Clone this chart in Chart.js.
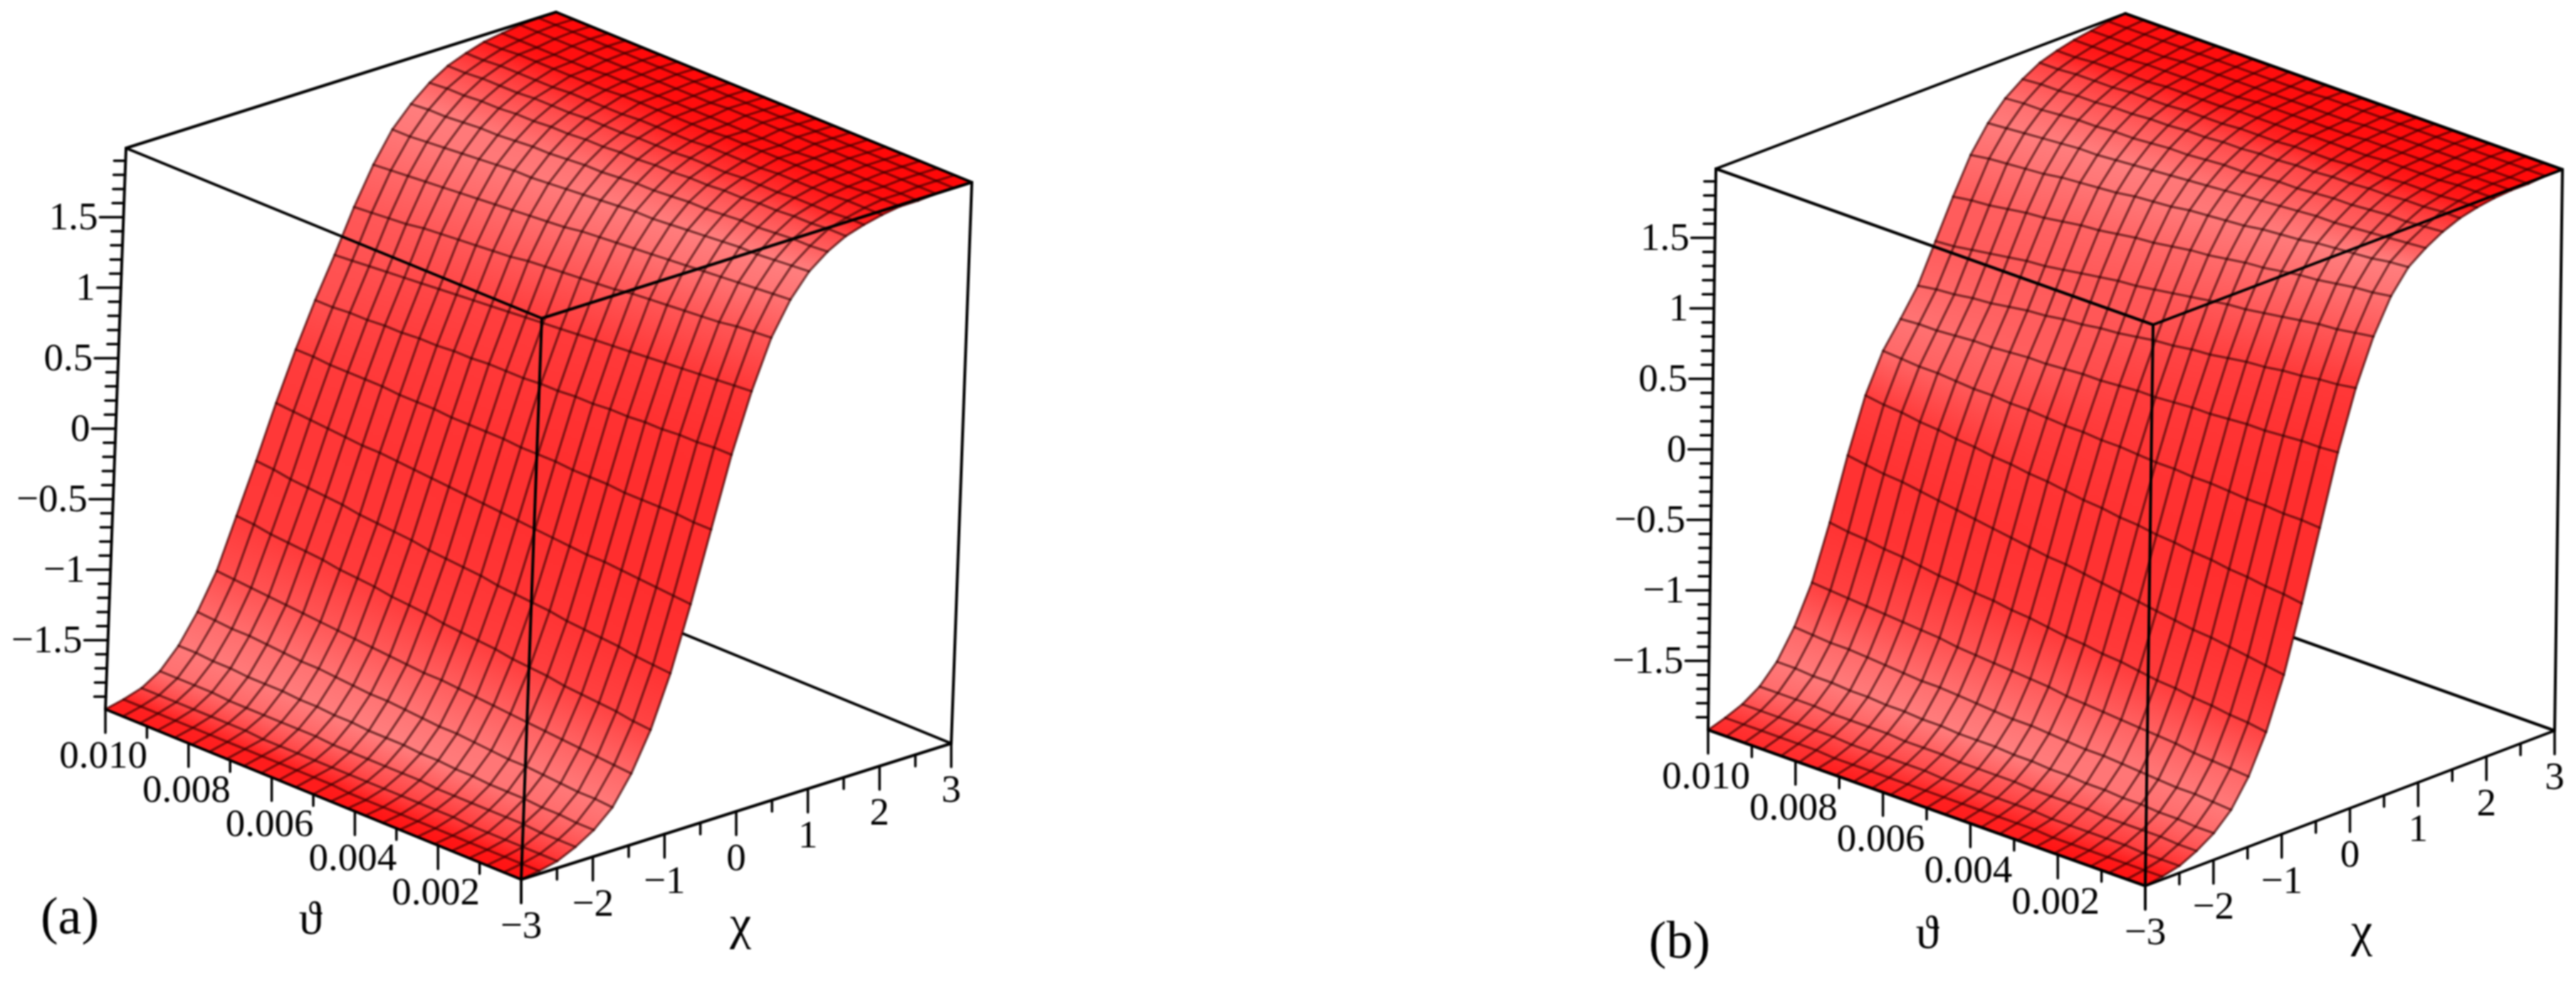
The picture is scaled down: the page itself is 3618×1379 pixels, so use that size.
<!DOCTYPE html>
<html>
<head>
<meta charset="utf-8">
<script src="https://cdn.jsdelivr.net/npm/chart.js@4/dist/chart.umd.min.js"></script>
<style>
  html, body { margin: 0; padding: 0; background: #fff; }
  canvas { display: block; filter: blur(1px); }
</style>
</head>
<body>
<canvas id="chartId" width="3618" height="1379"></canvas>
<script>
// axis grids of the surface mesh
const chiGrid = [-3,-2.75,-2.5,-2.25,-2,-1.75,-1.5,-1.25,-1,-.75,-.5,-.25,0,.25,.5,.75,1,1.25,1.5,1.75,2,2.25,2.5,2.75,3];
const thetaGrid = [0,.00042,.00083,.00125,.00167,.00208,.0025,.00292,.00333,.00375,.00417,.00458,.005,.00542,.00583,.00625,.00667,.00708,.0075,.00792,.00833,.00875,.00917,.00958,.01];

// heights: one row per theta, one column per chi
const surfaceA = [
[-1.99,-1.97,-1.94,-1.88,-1.80,-1.68,-1.48,-1.21,-.85,-.40,.09,.58,.99,1.33,1.56,1.72,1.82,1.89,1.93,1.96,1.98,1.98,1.99,1.99,1.99],
[-1.99,-1.97,-1.94,-1.88,-1.80,-1.67,-1.47,-1.20,-.84,-.39,.09,.58,.98,1.32,1.55,1.71,1.81,1.89,1.93,1.96,1.98,1.98,1.99,1.99,1.99],
[-1.99,-1.97,-1.94,-1.88,-1.79,-1.67,-1.46,-1.18,-.83,-.38,.10,.57,.97,1.31,1.54,1.70,1.81,1.88,1.92,1.96,1.98,1.98,1.99,1.99,1.99],
[-1.99,-1.97,-1.94,-1.87,-1.79,-1.66,-1.45,-1.17,-.81,-.37,.10,.57,.96,1.29,1.53,1.69,1.80,1.88,1.92,1.95,1.97,1.98,1.99,1.99,1.99],
[-1.99,-1.97,-1.94,-1.87,-1.78,-1.65,-1.44,-1.16,-.80,-.36,.10,.56,.95,1.28,1.52,1.69,1.79,1.87,1.92,1.95,1.97,1.98,1.99,1.99,1.99],
[-1.99,-1.97,-1.94,-1.87,-1.78,-1.64,-1.43,-1.15,-.79,-.35,.10,.56,.94,1.27,1.51,1.68,1.79,1.87,1.91,1.95,1.97,1.98,1.99,1.99,1.99],
[-1.99,-1.97,-1.93,-1.87,-1.78,-1.64,-1.42,-1.13,-.78,-.35,.11,.55,.93,1.26,1.50,1.67,1.78,1.86,1.91,1.95,1.97,1.98,1.99,1.99,1.99],
[-1.99,-1.97,-1.93,-1.87,-1.77,-1.63,-1.41,-1.12,-.76,-.34,.11,.55,.92,1.25,1.49,1.66,1.77,1.86,1.91,1.94,1.97,1.97,1.99,1.99,1.99],
[-1.99,-1.97,-1.93,-1.87,-1.77,-1.62,-1.40,-1.11,-.75,-.33,.11,.54,.91,1.24,1.48,1.65,1.77,1.85,1.90,1.94,1.97,1.97,1.99,1.99,1.99],
[-1.99,-1.97,-1.93,-1.86,-1.76,-1.61,-1.39,-1.09,-.74,-.32,.12,.54,.90,1.22,1.47,1.64,1.76,1.85,1.90,1.94,1.97,1.97,1.99,1.99,1.99],
[-1.99,-1.97,-1.93,-1.86,-1.76,-1.61,-1.38,-1.08,-.73,-.31,.12,.53,.89,1.21,1.46,1.64,1.75,1.84,1.90,1.94,1.97,1.97,1.99,1.99,1.99],
[-1.99,-1.97,-1.93,-1.86,-1.75,-1.60,-1.37,-1.07,-.71,-.30,.12,.53,.88,1.20,1.45,1.63,1.75,1.84,1.89,1.93,1.96,1.97,1.99,1.99,1.99],
[-1.99,-1.96,-1.93,-1.86,-1.75,-1.59,-1.37,-1.06,-.70,-.29,.13,.52,.87,1.19,1.44,1.62,1.74,1.83,1.89,1.93,1.96,1.97,1.99,1.99,1.99],
[-1.99,-1.96,-1.93,-1.86,-1.75,-1.58,-1.36,-1.04,-.69,-.28,.13,.52,.86,1.18,1.42,1.61,1.73,1.83,1.89,1.93,1.96,1.97,1.98,1.99,1.99],
[-1.99,-1.96,-1.93,-1.86,-1.74,-1.58,-1.35,-1.03,-.68,-.27,.13,.52,.85,1.17,1.41,1.60,1.73,1.82,1.88,1.93,1.96,1.97,1.98,1.99,1.99],
[-1.99,-1.96,-1.93,-1.85,-1.74,-1.57,-1.34,-1.02,-.66,-.26,.13,.51,.84,1.15,1.40,1.59,1.72,1.82,1.88,1.92,1.96,1.97,1.98,1.99,1.99],
[-1.99,-1.96,-1.93,-1.85,-1.73,-1.56,-1.33,-1.00,-.65,-.25,.14,.51,.83,1.14,1.39,1.58,1.71,1.81,1.88,1.92,1.96,1.97,1.98,1.99,1.99],
[-1.99,-1.96,-1.93,-1.85,-1.73,-1.55,-1.32,-.99,-.64,-.24,.14,.50,.82,1.13,1.38,1.58,1.71,1.81,1.87,1.92,1.95,1.97,1.98,1.99,1.99],
[-1.99,-1.96,-1.92,-1.85,-1.72,-1.55,-1.31,-.98,-.63,-.23,.14,.50,.81,1.12,1.37,1.57,1.70,1.80,1.87,1.92,1.95,1.97,1.98,1.99,1.99],
[-1.99,-1.96,-1.92,-1.85,-1.72,-1.54,-1.30,-.96,-.61,-.23,.15,.49,.80,1.11,1.36,1.56,1.69,1.80,1.87,1.91,1.95,1.96,1.98,1.99,1.99],
[-1.99,-1.96,-1.92,-1.85,-1.72,-1.53,-1.29,-.95,-.60,-.22,.15,.49,.79,1.10,1.35,1.55,1.69,1.79,1.86,1.91,1.95,1.96,1.98,1.99,1.99],
[-1.99,-1.96,-1.92,-1.84,-1.71,-1.52,-1.28,-.94,-.59,-.21,.15,.48,.78,1.08,1.34,1.54,1.68,1.79,1.86,1.91,1.95,1.96,1.98,1.99,1.99],
[-1.99,-1.96,-1.92,-1.84,-1.71,-1.52,-1.27,-.93,-.58,-.20,.15,.48,.77,1.07,1.33,1.53,1.67,1.78,1.86,1.91,1.95,1.96,1.98,1.99,1.99],
[-1.99,-1.96,-1.92,-1.84,-1.70,-1.51,-1.26,-.91,-.56,-.19,.16,.47,.76,1.06,1.32,1.52,1.67,1.78,1.85,1.90,1.94,1.96,1.98,1.99,1.99],
[-1.99,-1.96,-1.92,-1.84,-1.70,-1.50,-1.25,-.90,-.55,-.18,.16,.47,.75,1.05,1.31,1.52,1.66,1.77,1.85,1.90,1.94,1.96,1.98,1.99,1.99]
];
const surfaceB = [
[-1.99,-1.97,-1.94,-1.88,-1.80,-1.68,-1.49,-1.22,-.86,-.40,.09,.58,.99,1.31,1.55,1.71,1.80,1.87,1.92,1.95,1.97,1.98,1.98,1.99,1.99],
[-1.99,-1.97,-1.94,-1.88,-1.80,-1.67,-1.48,-1.20,-.84,-.38,.10,.57,.97,1.29,1.53,1.70,1.79,1.86,1.92,1.95,1.97,1.98,1.98,1.99,1.99],
[-1.99,-1.97,-1.94,-1.87,-1.79,-1.66,-1.47,-1.19,-.82,-.37,.10,.57,.96,1.27,1.52,1.68,1.78,1.85,1.91,1.94,1.97,1.98,1.98,1.99,1.99],
[-1.99,-1.97,-1.93,-1.87,-1.79,-1.66,-1.46,-1.17,-.80,-.35,.11,.56,.94,1.26,1.50,1.67,1.77,1.85,1.91,1.94,1.96,1.97,1.98,1.99,1.99],
[-1.99,-1.97,-1.93,-1.87,-1.78,-1.65,-1.44,-1.16,-.78,-.34,.11,.55,.93,1.24,1.48,1.66,1.76,1.84,1.90,1.94,1.96,1.97,1.98,1.99,1.99],
[-1.99,-1.97,-1.93,-1.87,-1.78,-1.64,-1.43,-1.14,-.77,-.32,.12,.55,.91,1.22,1.47,1.65,1.75,1.83,1.90,1.93,1.96,1.97,1.98,1.99,1.99],
[-1.99,-1.97,-1.93,-1.86,-1.77,-1.63,-1.42,-1.13,-.75,-.31,.13,.54,.90,1.20,1.45,1.63,1.75,1.83,1.89,1.93,1.96,1.97,1.98,1.99,1.99],
[-1.99,-1.96,-1.93,-1.86,-1.77,-1.62,-1.41,-1.11,-.73,-.29,.13,.53,.88,1.18,1.43,1.62,1.74,1.82,1.89,1.93,1.95,1.97,1.98,1.99,1.99],
[-1.99,-1.96,-1.92,-1.86,-1.76,-1.62,-1.40,-1.09,-.71,-.28,.14,.53,.86,1.17,1.42,1.61,1.73,1.81,1.88,1.92,1.95,1.97,1.98,1.99,1.99],
[-1.99,-1.96,-1.92,-1.86,-1.76,-1.61,-1.39,-1.08,-.69,-.26,.14,.52,.85,1.15,1.40,1.59,1.72,1.81,1.88,1.92,1.95,1.96,1.98,1.99,1.99],
[-1.99,-1.96,-1.92,-1.85,-1.75,-1.60,-1.38,-1.06,-.67,-.25,.15,.51,.83,1.13,1.38,1.58,1.71,1.80,1.87,1.92,1.95,1.96,1.97,1.99,1.99],
[-1.99,-1.96,-1.92,-1.85,-1.75,-1.59,-1.36,-1.05,-.65,-.23,.16,.51,.82,1.11,1.37,1.57,1.70,1.79,1.87,1.91,1.94,1.96,1.97,1.99,1.99],
[-1.99,-1.96,-1.92,-1.85,-1.74,-1.59,-1.35,-1.03,-.63,-.22,.16,.50,.80,1.09,1.35,1.56,1.69,1.79,1.86,1.91,1.94,1.96,1.97,1.99,1.99],
[-1.99,-1.96,-1.92,-1.85,-1.74,-1.58,-1.34,-1.01,-.62,-.20,.17,.49,.78,1.07,1.33,1.54,1.68,1.78,1.86,1.91,1.94,1.96,1.97,1.98,1.99],
[-1.99,-1.96,-1.91,-1.84,-1.74,-1.57,-1.33,-1.00,-.60,-.18,.17,.49,.77,1.06,1.32,1.53,1.67,1.77,1.85,1.90,1.94,1.96,1.97,1.98,1.99],
[-1.99,-1.96,-1.91,-1.84,-1.73,-1.56,-1.32,-.98,-.58,-.17,.18,.48,.75,1.04,1.30,1.52,1.66,1.77,1.85,1.90,1.93,1.95,1.97,1.98,1.99],
[-1.99,-1.96,-1.91,-1.84,-1.73,-1.55,-1.31,-.97,-.56,-.15,.19,.47,.74,1.02,1.28,1.50,1.65,1.76,1.84,1.90,1.93,1.95,1.97,1.98,1.99],
[-1.99,-1.96,-1.91,-1.83,-1.72,-1.55,-1.29,-.95,-.54,-.14,.19,.47,.72,1.00,1.27,1.49,1.64,1.75,1.84,1.89,1.93,1.95,1.97,1.98,1.99],
[-1.99,-1.96,-1.91,-1.83,-1.72,-1.54,-1.28,-.94,-.52,-.12,.20,.46,.71,.98,1.25,1.48,1.63,1.75,1.83,1.89,1.93,1.95,1.97,1.98,1.99],
[-1.99,-1.95,-1.90,-1.83,-1.71,-1.53,-1.27,-.92,-.50,-.11,.20,.45,.69,.97,1.23,1.47,1.63,1.74,1.83,1.89,1.92,1.95,1.97,1.98,1.99],
[-1.99,-1.95,-1.90,-1.83,-1.71,-1.52,-1.26,-.90,-.48,-.09,.21,.45,.67,.95,1.22,1.45,1.62,1.74,1.82,1.88,1.92,1.95,1.96,1.98,1.99],
[-1.99,-1.95,-1.90,-1.82,-1.70,-1.51,-1.25,-.89,-.46,-.08,.22,.44,.66,.93,1.20,1.44,1.61,1.73,1.82,1.88,1.92,1.94,1.96,1.98,1.99],
[-1.99,-1.95,-1.90,-1.82,-1.70,-1.51,-1.24,-.87,-.45,-.06,.22,.43,.64,.91,1.18,1.43,1.60,1.72,1.81,1.88,1.92,1.94,1.96,1.98,1.99],
[-1.99,-1.95,-1.90,-1.82,-1.69,-1.50,-1.23,-.86,-.43,-.05,.23,.43,.63,.89,1.17,1.42,1.59,1.72,1.81,1.87,1.91,1.94,1.96,1.98,1.99],
[-1.99,-1.95,-1.90,-1.82,-1.69,-1.49,-1.22,-.84,-.41,-.03,.24,.42,.61,.88,1.15,1.40,1.58,1.71,1.80,1.87,1.91,1.94,1.96,1.98,1.99]
];

// tick values and their labels
const zMajorTicks = [-1.5,-1,-.5,0,.5,1,1.5];
const zMajorLabels = ["−1.5","−1","−0.5","0","0.5","1","1.5"];
const zMinorTicks = [-1.9,-1.8,-1.7,-1.6,-1.4,-1.3,-1.2,-1.1,-.9,-.8,-.7,-.6,-.4,-.3,-.2,-.1,.1,.2,.3,.4,.6,.7,.8,.9,1.1,1.2,1.3,1.4,1.6,1.7,1.8,1.9];
const thetaMajorTicks = [.01,.008,.006,.004,.002,0];
const thetaMajorLabels = ["0.010","0.008","0.006","0.004","0.002",""];
const thetaMinorTicks = [.009,.007,.005,.003,.001];
const chiMajorTicks = [-3,-2,-1,0,1,2,3];
const chiMajorLabels = ["−3","−2","−1","0","1","2","3"];
const chiMinorTicks = [-2.5,-1.5,-.5,.5,1.5,2.5];

const THETA_MAX = .01, CHI_MIN = -3, CHI_MAX = 3, Z_MIN = -1.99, Z_MAX = 1.99;

// where each 3d box sits on the page
const views = [
    {
        name: "(a)", surface: surfaceA,
        origin: {x: 732, y: 1235}, thetaVec: {x: -584, y: -239}, chiVec: {x: 604, y: -191}, zVec: {x: 29, y: -788},
        nameAt: {x: 98, y: 1292}, thetaAt: {x: 436, y: 1294}, chiAt: {x: 1040, y: 1301},
    },
    {
        name: "(b)", surface: surfaceB,
        origin: {x: 3013, y: 1244}, thetaVec: {x: -614, y: -219}, chiVec: {x: 575, y: -218}, zVec: {x: 11, y: -788},
        nameAt: {x: 2359, y: 1326}, thetaAt: {x: 2707, y: 1314}, chiAt: {x: 3317, y: 1311},
    },
];

function project(view, theta, chi, z) {
    const a = theta / THETA_MAX, b = (chi - CHI_MIN) / (CHI_MAX - CHI_MIN), c = (z - Z_MIN) / (Z_MAX - Z_MIN);
    return {
        x: view.origin.x + a * view.thetaVec.x + b * view.chiVec.x + c * view.zVec.x,
        y: view.origin.y + a * view.thetaVec.y + b * view.chiVec.y + c * view.zVec.y,
    };
}

// lighting: whiteness of the red against the slope of the surface
const slopeStops = [0, .12, .21, .33, .78, 1.2, 1.75, 1.96, 2.4, 2.7];
const whiteStops = [.03, .07, .13, .27, .5, .45, .33, .24, .2, .18];

function whiteness(slope) {
    for (let i = 1; i < slopeStops.length; i++) {
        if (slope <= slopeStops[i]) {
            const k = (slope - slopeStops[i - 1]) / (slopeStops[i] - slopeStops[i - 1]);
            return whiteStops[i - 1] + k * (whiteStops[i] - whiteStops[i - 1]);
        }
    }
    return whiteStops[whiteStops.length - 1];
}

function shadeAt(surface, t, c) {
    const lo = Math.max(c - 1, 0), hi = Math.min(c + 1, chiGrid.length - 1);
    const dz = surface[t][hi] - surface[t][lo], dchi = chiGrid[hi] - chiGrid[lo];
    return whiteness(Math.abs(dz / dchi) * (CHI_MAX - CHI_MIN) / (Z_MAX - Z_MIN));
}

function redTint(w) {
    const v = Math.round(255 * w);
    return `rgb(255,${v},${v})`;
}

// one quad is shaded across the chi direction, from its lower edge to its upper edge
function cellFill(ctx, pts, w0, w1) {
    const sx = ctx.chart.scales.x, sy = ctx.chart.scales.y;
    if (!sx || !sy) return redTint(w0);
    const px = pts.map(p => ({x: sx.getPixelForValue(p.x), y: sy.getPixelForValue(p.y)}));
    // scales have no pixel range yet on the pass before layout
    if (px.some(p => !isFinite(p.x) || !isFinite(p.y))) return redTint(w0);
    const a = {x: (px[0].x + px[1].x) / 2, y: (px[0].y + px[1].y) / 2};
    const b = {x: (px[2].x + px[3].x) / 2, y: (px[2].y + px[3].y) / 2};
    const ex = px[1].x - px[0].x, ey = px[1].y - px[0].y, len = Math.hypot(ex, ey) || 1;
    const nx = -ey / len, ny = ex / len;
    const d = (b.x - a.x) * nx + (b.y - a.y) * ny;
    const g = ctx.chart.ctx.createLinearGradient(a.x, a.y, a.x + nx * d, a.y + ny * d);
    g.addColorStop(0, redTint(w0));
    g.addColorStop(1, redTint(w1));
    return g;
}

function lineSet(data, color, width) {
    return {data: data, borderColor: color, borderWidth: width, fill: false, pointRadius: 0, tension: 0, borderCapStyle: "round", borderJoinStyle: "round"};
}

const FRAME = "#000", FRAME_W = 4, TICK_W = 3.5, MESH = "rgba(45,0,0,.6)", MESH_W = 3.3;
const MAJOR_LEN = 33, MINOR_LEN = 16;

function buildPanel(view) {
    const sets = [];
    const P = (th, ch, z) => project(view, th, ch, z);
    const surface = view.surface;

    // back edge that disappears behind the surface
    sets.push(lineSet([P(0, CHI_MAX, Z_MIN), P(THETA_MAX, CHI_MAX, Z_MIN)], FRAME, FRAME_W));

    // surface cells
    for (let t = 0; t < thetaGrid.length - 1; t++) {
        for (let c = 0; c < chiGrid.length - 1; c++) {
            const pts = [
                P(thetaGrid[t], chiGrid[c], surface[t][c]),
                P(thetaGrid[t + 1], chiGrid[c], surface[t + 1][c]),
                P(thetaGrid[t + 1], chiGrid[c + 1], surface[t + 1][c + 1]),
                P(thetaGrid[t], chiGrid[c + 1], surface[t][c + 1]),
            ];
            const w0 = (shadeAt(surface, t, c) + shadeAt(surface, t + 1, c)) / 2;
            const w1 = (shadeAt(surface, t, c + 1) + shadeAt(surface, t + 1, c + 1)) / 2;
            const fillColor = ctx => cellFill(ctx, pts, w0, w1);
            sets.push({
                data: pts.concat([pts[0]]), fill: "shape", backgroundColor: fillColor, borderColor: fillColor,
                borderWidth: 1.2, pointRadius: 0, tension: 0,
            });
        }
    }

    // mesh lines
    thetaGrid.forEach((th, t) => {
        sets.push(lineSet(chiGrid.map((ch, c) => P(th, ch, surface[t][c])), MESH, MESH_W));
    });
    chiGrid.forEach((ch, c) => {
        sets.push(lineSet(thetaGrid.map((th, t) => P(th, ch, surface[t][c])), MESH, MESH_W));
    });

    // box edges in front
    const edges = [
        [P(THETA_MAX, CHI_MIN, Z_MIN), P(0, CHI_MIN, Z_MIN)],
        [P(0, CHI_MIN, Z_MIN), P(0, CHI_MAX, Z_MIN)],
        [P(THETA_MAX, CHI_MIN, Z_MIN), P(THETA_MAX, CHI_MIN, Z_MAX)],
        [P(0, CHI_MIN, Z_MIN), P(0, CHI_MIN, Z_MAX)],
        [P(0, CHI_MAX, Z_MIN), P(0, CHI_MAX, Z_MAX)],
        [P(THETA_MAX, CHI_MIN, Z_MAX), P(0, CHI_MIN, Z_MAX)],
        [P(0, CHI_MIN, Z_MAX), P(0, CHI_MAX, Z_MAX)],
        [P(THETA_MAX, CHI_MIN, Z_MAX), P(THETA_MAX, CHI_MAX, Z_MAX)],
        [P(THETA_MAX, CHI_MAX, Z_MAX), P(0, CHI_MAX, Z_MAX)],
    ];
    edges.forEach(e => sets.push(lineSet(e, FRAME, FRAME_W)));

    // ticks
    const zTick = (z, len) => {
        const p = P(THETA_MAX, CHI_MIN, z);
        sets.push(lineSet([p, {x: p.x - len, y: p.y}], FRAME, TICK_W));
    };
    const downTick = (p, len) => sets.push(lineSet([p, {x: p.x, y: p.y + len}], FRAME, TICK_W));
    zMajorTicks.forEach(z => zTick(z, MAJOR_LEN));
    zMinorTicks.forEach(z => zTick(z, MINOR_LEN));
    thetaMajorTicks.forEach(th => downTick(P(th, CHI_MIN, Z_MIN), MAJOR_LEN));
    thetaMinorTicks.forEach(th => downTick(P(th, CHI_MIN, Z_MIN), MINOR_LEN));
    chiMajorTicks.forEach(ch => downTick(P(0, ch, Z_MIN), MAJOR_LEN));
    chiMinorTicks.forEach(ch => downTick(P(0, ch, Z_MIN), MINOR_LEN));
    return sets;
}

// tick labels and titles, placed through the same scales as the marks
const labelPlugin = {
    id: "boxLabels",
    afterDatasetsDraw(chart) {
        const ctx = chart.ctx, sx = chart.scales.x, sy = chart.scales.y;
        const put = (text, x, y, align, font) => {
            ctx.font = font;
            ctx.textAlign = align;
            ctx.textBaseline = "middle";
            ctx.fillText(text, sx.getPixelForValue(x), sy.getPixelForValue(y));
        };
        const tickFont = '55px "Liberation Serif"';
        ctx.save();
        ctx.fillStyle = "#000";
        views.forEach(view => {
            zMajorTicks.forEach((z, i) => {
                const p = project(view, THETA_MAX, CHI_MIN, z);
                put(zMajorLabels[i], p.x - MAJOR_LEN - 3, p.y + 3, "right", tickFont);
            });
            thetaMajorTicks.forEach((th, i) => {
                const p = project(view, th, CHI_MIN, Z_MIN);
                put(thetaMajorLabels[i], p.x - 3, p.y + 68, "center", tickFont);
            });
            chiMajorTicks.forEach((ch, i) => {
                const p = project(view, 0, ch, Z_MIN);
                put(chiMajorLabels[i], p.x, p.y + 68, "center", tickFont);
            });
            put("ϑ", view.thetaAt.x, view.thetaAt.y, "center", '66px "Liberation Serif"');
            put("χ", view.chiAt.x, view.chiAt.y, "center", '68px "Liberation Serif"');
            put(view.name, view.nameAt.x, view.nameAt.y, "center", '74px "Liberation Serif"');
        });
        ctx.restore();
    },
};

// dataset 0 is painted last, so the list goes back to front and is then flipped
const datasets = views.flatMap(buildPanel).reverse();

const chrt = document.getElementById("chartId").getContext("2d");
const chartId = new Chart(chrt, {
    type: "line",
    data: {datasets: datasets},
    options: {
        responsive: false,
        animation: false,
        events: [],
        layout: {padding: 0},
        clip: false,
        plugins: {legend: {display: false}, tooltip: {enabled: false}},
        scales: {
            x: {type: "linear", display: false, min: 0, max: 3618},
            y: {type: "linear", display: false, min: 0, max: 1379, reverse: true},
        },
    },
    plugins: [labelPlugin],
});
</script>
</body>
</html>
